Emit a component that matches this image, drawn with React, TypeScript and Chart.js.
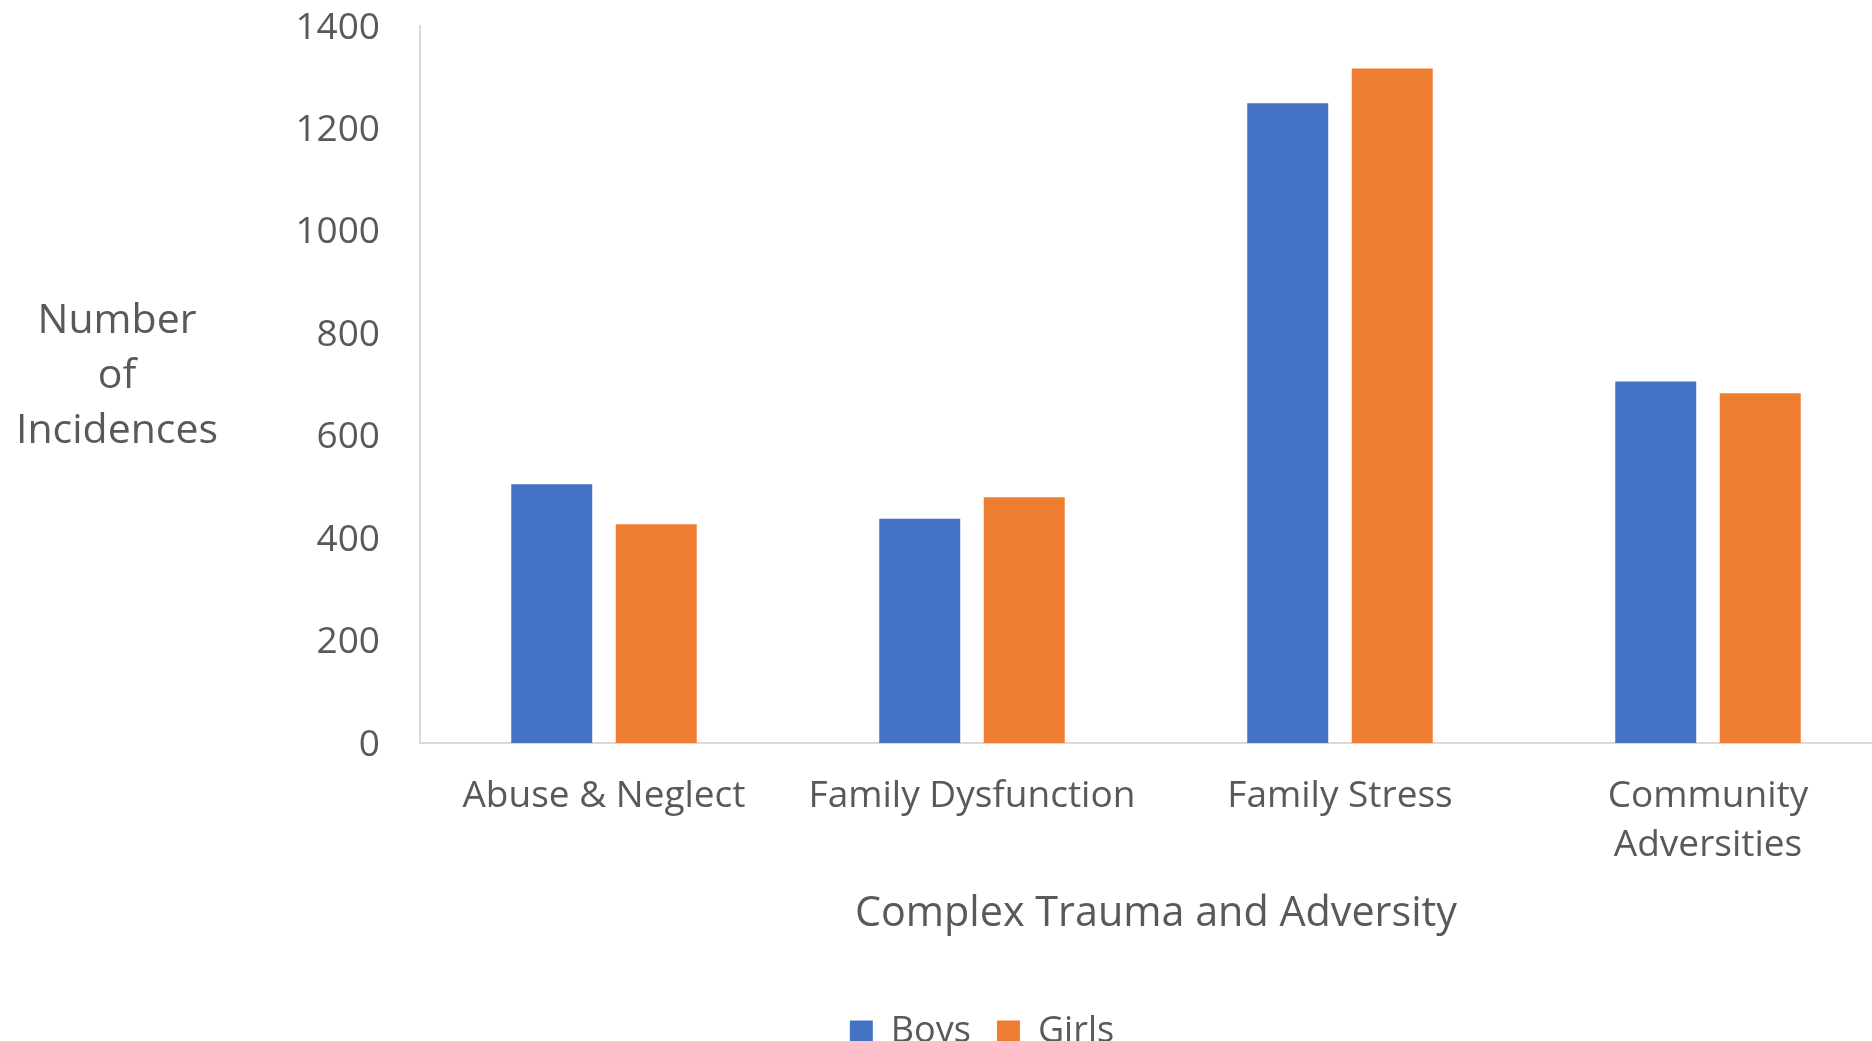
import React, { useEffect, useRef } from "react";
import { Chart, registerables } from "chart.js";

Chart.register(...registerables);

// Incidence counts by trauma category
const categories: (string | string[])[] = [
  "Abuse & Neglect",
  "Family Dysfunction",
  "Family Stress",
  ["Community", "Adversities"],
];
const boys = [505, 438, 1249, 706];
const girls = [427, 480, 1317, 683];
const seriesNames = ["Boys", "Girls"];
const yTitleLines = ["Number", "of", "Incidences"];
const xTitle = "Complex Trauma and Adversity";
const yMax = 1400;
const yStep = 200;

const TEXT = "#595959";
const AXIS = "#D9D9D9";
const FONT = "'Open Sans', 'DejaVu Sans', sans-serif";

const CANVAS_W = 1900;
const CANVAS_H = 1080;

// Horizontal, multi-line title to the left of the value axis
const yTitlePlugin = {
  id: "yTitleHorizontal",
  afterDraw(chart: any) {
    const { ctx, chartArea } = chart;
    const lineH = 55;
    const cx = chartArea.left - 303;
    const mid = (chartArea.top + chartArea.bottom) / 2 - 8;
    ctx.save();
    ctx.font = `41px ${FONT}`;
    ctx.fillStyle = TEXT;
    ctx.textAlign = "center";
    ctx.textBaseline = "middle";
    const start = mid - ((yTitleLines.length - 1) * lineH) / 2;
    yTitleLines.forEach((line, i) => ctx.fillText(line, cx, start + i * lineH));
    ctx.restore();
  },
};

export default function App() {
  const ref = useRef<HTMLCanvasElement | null>(null);

  useEffect(() => {
    if (!ref.current) return;
    Chart.defaults.font.family = FONT;
    Chart.defaults.color = TEXT;
    const chart = new Chart(ref.current, {
      type: "bar",
      data: {
        labels: categories,
        datasets: [
          { label: seriesNames[0], data: boys, backgroundColor: "#4472C4", borderWidth: 0 },
          { label: seriesNames[1], data: girls, backgroundColor: "#ED7D31", borderWidth: 0 },
        ],
      },
      plugins: [yTitlePlugin],
      options: {
        animation: false,
        responsive: false,
        devicePixelRatio: 1,
        categoryPercentage: 0.568,
        barPercentage: 0.775,
        layout: { padding: { left: 72, right: 8, top: 26, bottom: 20 } },
        plugins: {
          tooltip: { enabled: false },
          legend: {
            position: "bottom",
            labels: {
              boxWidth: 23,
              boxHeight: 23,
              padding: 26,
              color: TEXT,
              font: { size: 36, family: FONT },
            },
          },
        },
        scales: {
          x: {
            grid: { display: false, drawTicks: false },
            border: { display: true, color: AXIS, width: 2 },
            ticks: {
              padding: 28,
              color: TEXT,
              maxRotation: 0,
              autoSkip: false,
              font: { size: 37, family: FONT, lineHeight: 1.35 },
            },
            title: {
              display: true,
              text: xTitle,
              color: TEXT,
              font: { size: 41.3, family: FONT, lineHeight: 1.2 },
              padding: { top: 0, bottom: 49 },
            },
            afterFit(scale: any) {
              scale.height = 245;
              scale.paddingLeft = 0;
              scale.paddingRight = 0;
            },
          },
          y: {
            min: 0,
            max: yMax,
            grid: { display: false, drawTicks: false },
            border: { display: true, color: AXIS, width: 2 },
            ticks: {
              stepSize: yStep,
              padding: 40,
              labelOffset: 2,
              color: TEXT,
              font: { size: 37, family: FONT },
              callback: (value: any) => String(value),
            },
            afterFit(scale: any) {
              scale.width = 348;
              scale.paddingTop = 0;
              scale.paddingBottom = 0;
            },
          },
        },
      },
    });
    return () => chart.destroy();
  }, []);

  return (
    <div
      style={{
        position: "fixed",
        left: 0,
        top: 0,
        width: 1872,
        height: 1041,
        overflow: "hidden",
        background: "#fff",
      }}
    >
      <canvas
        ref={ref}
        width={CANVAS_W}
        height={CANVAS_H}
        style={{ width: CANVAS_W, height: CANVAS_H, display: "block" }}
      />
    </div>
  );
}
